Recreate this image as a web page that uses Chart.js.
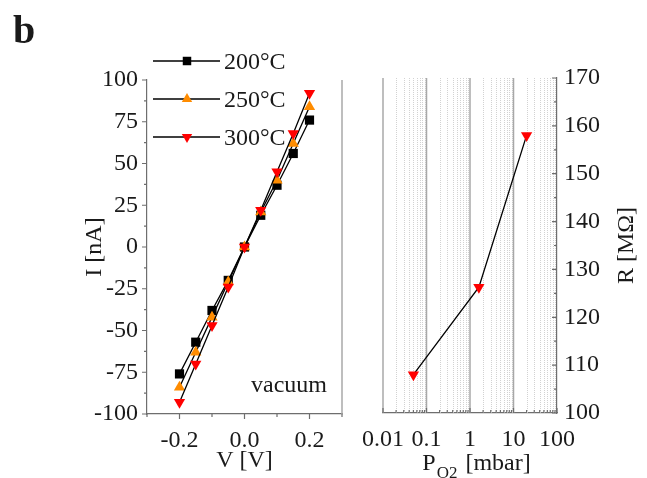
<!DOCTYPE html>
<html>
<head>
<meta charset="utf-8">
<script src="https://cdn.jsdelivr.net/npm/chart.js@4.4.1/dist/chart.umd.min.js"></script>
<style>
  body { margin: 0; background: #fff; }
  #wrap { position: relative; width: 647px; height: 478px; }
  canvas { position: absolute; top: 0; }
  #ivChart { left: 0; }
  #rChart { left: 350px; }
</style>
</head>
<body>
<div id="wrap">
  <canvas id="ivChart" width="350" height="478"></canvas>
  <canvas id="rChart" width="297" height="478"></canvas>
</div>
<script>
// I-V curves at three temperatures (vacuum)
const voltages = [-0.2, -0.15, -0.1, -0.05, 0, 0.05, 0.1, 0.15, 0.2];
const temps = ['200°C', '250°C', '300°C'];
const current200 = [-76, -57, -38, -20, 0, 19, 37, 56, 76];
const current250 = [-84, -63, -42, -21, 0, 21, 40, 62, 84];
const current300 = [-93, -70, -47, -24, 0, 22, 45, 68, 92];
const vTicks = [-0.2, 0, 0.2];
const vMinorTicks = [-0.3, -0.1, 0.1, 0.3];
const iTicks = [-100, -75, -50, -25, 0, 25, 50, 75, 100];

// resistance vs oxygen partial pressure at 300°C
const pressures = [0.05, 1.6, 20];
const resistance = [108, 126.3, 158];
const pTicks = [0.01, 0.1, 1, 10, 100];
const rTicks = [100, 110, 120, 130, 140, 150, 160, 170];

const currents = [current200, current250, current300];
const markerColors = ['#000000', '#ff8c00', '#ff0000'];
const markerStyles = ['rect', 'triangle', 'triangle'];
const markerRotations = [0, 0, 180];

const FONT = "'Liberation Serif', 'Times New Roman', serif";
const TXT = '#1a1a1a';
const AXIS = '#6e6e6e';
const FS = 24;

function drawMarker(ctx, style, rotation, r, x, y, color) {
  ctx.save();
  ctx.fillStyle = color;
  ctx.beginPath();
  if (style === 'rect') {
    const s = r * Math.SQRT1_2;
    ctx.rect(x - s, y - s, 2 * s, 2 * s);
  } else {
    let a = rotation * Math.PI / 180;
    for (let k = 0; k < 3; k++) {
      const px = x + Math.sin(a) * r, py = y - Math.cos(a) * r;
      if (k) ctx.lineTo(px, py); else ctx.moveTo(px, py);
      a += 2 * Math.PI / 3;
    }
    ctx.closePath();
  }
  ctx.fill();
  ctx.restore();
}

// short tick marks along an axis; dir = +1 outward, -1 inward
function tickMarks(ctx, scale, values, len, side, dir) {
  ctx.save();
  ctx.strokeStyle = AXIS;
  ctx.lineWidth = 1.2;
  ctx.beginPath();
  values.forEach(v => {
    const p = scale.getPixelForValue(v);
    if (side === 'bottom') { ctx.moveTo(p, scale.top); ctx.lineTo(p, scale.top + dir * len); }
    if (side === 'left') { ctx.moveTo(scale.right, p); ctx.lineTo(scale.right - dir * len, p); }
    if (side === 'right') { ctx.moveTo(scale.left, p); ctx.lineTo(scale.left + dir * len, p); }
  });
  ctx.stroke();
  ctx.restore();
}

function rotatedText(ctx, text, x, y) {
  ctx.save();
  ctx.translate(x, y);
  ctx.rotate(-Math.PI / 2);
  ctx.textAlign = 'center';
  ctx.textBaseline = 'alphabetic';
  ctx.fillText(text, 0, 0);
  ctx.restore();
}

const tickFont = { family: FONT, size: FS };

const ivDecor = {
  id: 'ivDecor',
  beforeDatasetsDraw(chart) {
    const { ctx, chartArea: a, scales: { x, y } } = chart;
    // right frame of the panel
    ctx.save();
    ctx.strokeStyle = '#a8a8a8';
    ctx.lineWidth = 1.5;
    ctx.beginPath();
    ctx.moveTo(a.right, a.top);
    ctx.lineTo(a.right, a.bottom);
    ctx.stroke();
    ctx.restore();
    tickMarks(ctx, x, vTicks, 5, 'bottom', 1);
    tickMarks(ctx, x, vMinorTicks, 3, 'bottom', 1);
    tickMarks(ctx, y, iTicks, 5, 'left', 1);
    tickMarks(ctx, y, iTicks.slice(1).map(v => v - 12.5), 3, 'left', 1);
  },
  afterDraw(chart) {
    const { ctx, chartArea: a } = chart;
    ctx.save();
    ctx.fillStyle = TXT;
    ctx.font = 'bold 40px ' + FONT;
    ctx.textAlign = 'left';
    ctx.fillText('b', 13, 43);

    ctx.font = FS + 'px ' + FONT;
    rotatedText(ctx, 'I [nA]', 101, (a.top + a.bottom) / 2);
    ctx.textAlign = 'center';
    ctx.fillText('V [V]', (a.left + a.right) / 2, a.bottom + 53);
    ctx.textAlign = 'right';
    ctx.fillText('vacuum', a.right - 15, a.bottom - 22);

    // legend above the plot
    ctx.textAlign = 'left';
    const rows = [61, 99, 137];
    temps.forEach((t, i) => {
      const ly = rows[i];
      ctx.strokeStyle = '#000';
      ctx.lineWidth = 1.3;
      ctx.beginPath();
      ctx.moveTo(153, ly);
      ctx.lineTo(220, ly);
      ctx.stroke();
      drawMarker(ctx, markerStyles[i], markerRotations[i], 6, 187, ly, markerColors[i]);
      ctx.fillText(t, 224, ly + 8);
    });
    ctx.restore();
  }
};

new Chart(document.getElementById('ivChart'), {
  type: 'line',
  data: {
    datasets: temps.map((t, i) => ({
      label: t,
      data: voltages.map((v, j) => ({ x: v, y: currents[i][j] })),
      borderColor: '#000',
      borderWidth: 1.3,
      pointStyle: markerStyles[i],
      pointRotation: markerRotations[i],
      pointRadius: 6.5,
      pointBackgroundColor: markerColors[i],
      pointBorderColor: markerColors[i],
      pointBorderWidth: 0,
      order: 2 - i,
      clip: false
    }))
  },
  options: {
    responsive: false,
    animation: false,
    layout: { padding: { top: 80, right: 8, left: 0, bottom: 0 } },
    plugins: { legend: { display: false }, tooltip: { enabled: false } },
    scales: {
      x: {
        type: 'linear', min: -0.3, max: 0.3,
        afterFit: s => { s.height = 64; },
        afterBuildTicks: s => { s.ticks = vTicks.map(v => ({ value: v })); },
        grid: { display: false, drawTicks: false },
        border: { display: true, color: AXIS, width: 1.2 },
        ticks: { font: tickFont, color: TXT, padding: 12, autoSkip: false, maxRotation: 0,
                 callback: v => v.toFixed(1) }
      },
      y: {
        type: 'linear', min: -100, max: 100,
        afterFit: s => { s.width = 147; },
        afterBuildTicks: s => { s.ticks = iTicks.map(v => ({ value: v })); },
        grid: { display: false, drawTicks: false },
        border: { display: true, color: AXIS, width: 1.2 },
        ticks: { font: tickFont, color: TXT, padding: 9, autoSkip: false,
                 callback: v => String(v) }
      }
    }
  },
  plugins: [ivDecor]
});

const rDecor = {
  id: 'rDecor',
  beforeDatasetsDraw(chart) {
    const { ctx, chartArea: a, scales: { x, y } } = chart;
    const minorP = [];
    for (let d = 0.01; d < 100; d *= 10) for (let k = 2; k <= 9; k++) minorP.push(k * d);
    ctx.save();
    // dotted minor grid, solid decade grid
    ctx.strokeStyle = '#d2d2d2';
    ctx.lineWidth = 1;
    ctx.setLineDash([1, 1]);
    minorP.forEach(v => {
      const px = Math.round(x.getPixelForValue(v)) + 0.5;
      ctx.beginPath();
      ctx.moveTo(px, a.top);
      ctx.lineTo(px, a.bottom);
      ctx.stroke();
    });
    ctx.setLineDash([]);
    ctx.strokeStyle = '#a8a8a8';
    ctx.lineWidth = 1.5;
    pTicks.slice(0, -1).forEach(v => {
      const px = x.getPixelForValue(v);
      ctx.beginPath();
      ctx.moveTo(px, a.top);
      ctx.lineTo(px, a.bottom);
      ctx.stroke();
    });
    ctx.restore();
    tickMarks(ctx, x, pTicks, 5, 'bottom', -1);
    tickMarks(ctx, x, minorP, 3, 'bottom', -1);
    tickMarks(ctx, y, rTicks, 5, 'right', -1);
    tickMarks(ctx, y, rTicks.slice(1).map(v => v - 5), 3, 'right', -1);
  },
  afterDraw(chart) {
    const { ctx, chartArea: a } = chart;
    ctx.save();
    ctx.fillStyle = TXT;
    ctx.font = FS + 'px ' + FONT;
    rotatedText(ctx, 'R [MΩ]', a.right + 76, (a.top + a.bottom) / 2);

    // P with subscript O2
    const main = 'P', sub = 'O2', rest = ' [mbar]';
    ctx.font = FS + 'px ' + FONT;
    const wMain = ctx.measureText(main).width, wRest = ctx.measureText(rest).width;
    ctx.font = '17px ' + FONT;
    const wSub = ctx.measureText(sub).width;
    let tx = (a.left + a.right) / 2 + 5 - (wMain + wSub + wRest) / 2;
    const by = a.bottom + 57;
    ctx.textAlign = 'left';
    ctx.font = FS + 'px ' + FONT;
    ctx.fillText(main, tx, by);
    tx += wMain + 1;
    ctx.font = '17px ' + FONT;
    ctx.fillText(sub, tx, by + 8);
    tx += wSub + 2;
    ctx.font = FS + 'px ' + FONT;
    ctx.fillText(rest, tx, by);
    ctx.restore();
  }
};

new Chart(document.getElementById('rChart'), {
  type: 'line',
  data: {
    datasets: [{
      label: '300°C',
      data: pressures.map((p, j) => ({ x: p, y: resistance[j] })),
      borderColor: '#000',
      borderWidth: 1.3,
      pointStyle: 'triangle',
      pointRotation: 180,
      pointRadius: 6.5,
      pointBackgroundColor: '#ff0000',
      pointBorderColor: '#ff0000',
      pointBorderWidth: 0,
      clip: false
    }]
  },
  options: {
    responsive: false,
    animation: false,
    layout: { padding: { top: 78, right: 0, left: 32, bottom: 0 } },
    plugins: { legend: { display: false }, tooltip: { enabled: false } },
    scales: {
      x: {
        type: 'logarithmic', min: 0.01, max: 100,
        afterFit: s => { s.height = 65; },
        afterBuildTicks: s => { s.ticks = pTicks.map(v => ({ value: v })); },
        grid: { display: false, drawTicks: false },
        border: { display: true, color: AXIS, width: 1.2 },
        ticks: { font: tickFont, color: TXT, padding: 12, autoSkip: false, maxRotation: 0,
                 callback: v => String(v) }
      },
      y: {
        type: 'linear', position: 'right', min: 100, max: 170,
        afterFit: s => { s.width = 90; },
        afterBuildTicks: s => { s.ticks = rTicks.map(v => ({ value: v })); },
        grid: { display: false, drawTicks: false },
        border: { display: true, color: AXIS, width: 1.2 },
        ticks: { font: tickFont, color: TXT, padding: 7, autoSkip: false,
                 callback: v => String(v) }
      }
    }
  },
  plugins: [rDecor]
});
</script>
</body>
</html>
